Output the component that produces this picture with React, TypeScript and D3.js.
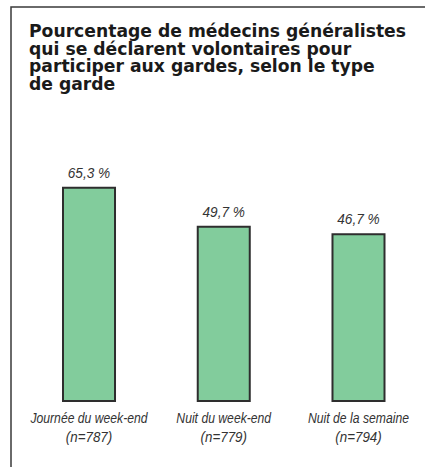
import React, { useRef, useEffect } from "react";
import * as d3 from "d3";

const titleLines = [
  "Pourcentage de médecins généralistes",
  "qui se déclarent volontaires pour",
  "participer aux gardes, selon le type",
  "de garde",
];
const categories = ["Journée du week-end", "Nuit du week-end", "Nuit de la semaine"];
const counts = ["(n=787)", "(n=779)", "(n=794)"];
const values = [65.3, 49.7, 46.7];
const valueLabels = ["65,3 %", "49,7 %", "46,7 %"];

export default function App() {
  const svgRef = useRef(null);

  useEffect(() => {
    const width = 425;
    const height = 467;
    const svg = d3.select(svgRef.current).attr("width", width).attr("height", height);
    svg.selectAll("*").remove();

    // frame (top and left edges only)
    svg.append("path")
      .attr("d", "M11,467 L11,7 L425,7")
      .attr("fill", "none")
      .attr("stroke", "#3a3a3a")
      .attr("stroke-width", 1.5);

    // title
    svg.selectAll("text.title")
      .data(titleLines)
      .enter().append("text")
      .attr("class", "title")
      .attr("x", 29)
      .attr("y", (d, i) => 37 + i * 17.7)
      .attr("font-family", "'DejaVu Sans', sans-serif")
      .attr("font-weight", "bold")
      .attr("font-size", 17.2)
      .attr("fill", "#1a1a1a")
      .text(d => d);

    // scales
    const x = d3.scaleBand()
      .domain(categories)
      .range([63, 384.5])
      .paddingInner(0.614)
      .paddingOuter(0);
    const y = d3.scaleLinear().domain([-20, 70]).range([401, 176]);

    const fontLabel = "'Liberation Sans', Arial, sans-serif";

    // bars
    svg.selectAll("rect.bar")
      .data(values)
      .enter().append("rect")
      .attr("class", "bar")
      .attr("x", (d, i) => x(categories[i]))
      .attr("y", d => y(d))
      .attr("width", x.bandwidth())
      .attr("height", d => y(-20) - y(d))
      .attr("fill", "#82cc9c")
      .attr("stroke", "#2e2e2e")
      .attr("stroke-width", 2);

    // narrow the italic labels a little, like a condensed face
    const condense = (sel, k) => sel.each(function () {
      const w = this.getComputedTextLength();
      d3.select(this).attr("textLength", w * k).attr("lengthAdjust", "spacingAndGlyphs");
    });

    // value labels
    svg.selectAll("text.val")
      .data(values)
      .enter().append("text")
      .attr("class", "val")
      .attr("x", (d, i) => x(categories[i]) + x.bandwidth() / 2)
      .attr("y", d => y(d) - 10)
      .attr("text-anchor", "middle")
      .attr("font-family", fontLabel)
      .attr("font-style", "italic")
      .attr("font-size", 15.5)
      .attr("fill", "#333")
      .text((d, i) => valueLabels[i])
      .call(condense, 0.88);

    // category labels
    svg.selectAll("text.cat")
      .data(categories)
      .enter().append("text")
      .attr("class", "cat")
      .attr("x", d => x(d) + x.bandwidth() / 2)
      .attr("y", 423)
      .attr("text-anchor", "middle")
      .attr("font-family", fontLabel)
      .attr("font-style", "italic")
      .attr("font-size", 14.5)
      .attr("fill", "#333")
      .text(d => d)
      .call(condense, 0.84);

    svg.selectAll("text.count")
      .data(counts)
      .enter().append("text")
      .attr("class", "count")
      .attr("x", (d, i) => x(categories[i]) + x.bandwidth() / 2)
      .attr("y", 442)
      .attr("text-anchor", "middle")
      .attr("font-family", fontLabel)
      .attr("font-style", "italic")
      .attr("font-size", 14.5)
      .attr("fill", "#333")
      .text(d => d)
      .call(condense, 0.92);
  }, []);

  return (
    <svg ref={svgRef} style={{ position: "absolute", left: 0, top: 0, display: "block" }}></svg>
  );
}
